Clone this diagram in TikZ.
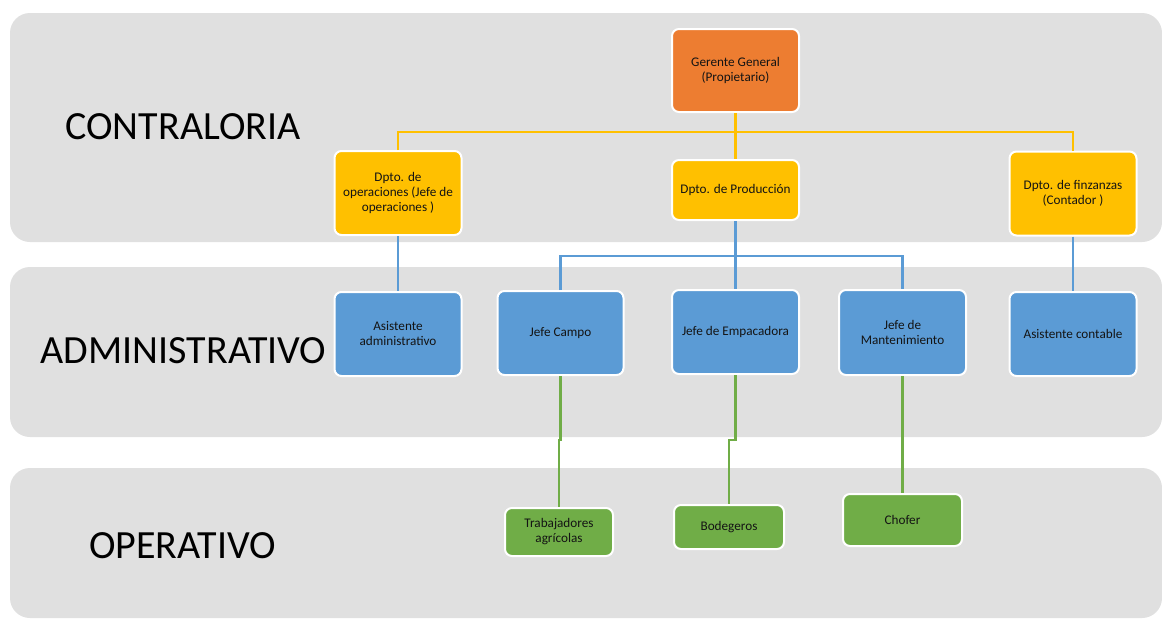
\documentclass[tikz,border=0pt]{standalone}
\usepackage{fontspec}
\setmainfont{Carlito}
\definecolor{bandgray}{RGB}{224,224,224}
\definecolor{orangebox}{RGB}{237,125,49}
\definecolor{yellowbox}{RGB}{255,192,0}
\definecolor{bluebox}{RGB}{91,155,213}
\definecolor{greenbox}{RGB}{112,173,71}
\definecolor{txt}{RGB}{20,20,20}
\begin{document}
\begin{tikzpicture}[x=1pt,y=-1pt,
  band/.style={fill=bandgray, draw=none, rounded corners=20pt},
  levellabel/.style={font=\fontsize{40}{44}\selectfont, inner sep=0, text=black},
  orgbox/.style={draw=white, line width=2pt, rounded corners=7pt, text=txt,
     font=\fontsize{13.2}{15}\selectfont, align=center, inner sep=0, anchor=center},
  ybox/.style={orgbox, fill=yellowbox},
  bbox/.style={orgbox, fill=bluebox},
  gbox/.style={orgbox, fill=greenbox},
  yline/.style={draw=yellowbox, line width=2.8pt},
  bline/.style={draw=bluebox, line width=2.8pt},
  gline/.style={draw=greenbox, line width=2.8pt}]
\useasboundingbox (0,0) rectangle (1162,619);
\clip (0,0) rectangle (1162,619);
\fill[white] (0,0) rectangle (1162,619);
% bands
\path[band] (10,13) rectangle (1162,242);
\path[band] (10,267) rectangle (1162,437);
\path[band] (10,468) rectangle (1162,618);
% level labels
\node[levellabel] (lc) at (183,127) {CONTRALORIA};
\node[levellabel] (la) at (183.5,351) {ADMINISTRATIVO};
\node[levellabel] (lo) at (182.5,546) {OPERATIVO};
% nodes
\node[orgbox, fill=orangebox, minimum width=127pt, minimum height=83pt] (gg) at (735.5,70.5) {Gerente General\\(Propietario)};
\node[ybox, minimum width=127pt, minimum height=84pt] (dop) at (398,193) {Dpto. de\\operaciones (Jefe de\\operaciones )};
\node[ybox, minimum width=127pt, minimum height=60pt] (dpr) at (735.5,190) {Dpto. de Producción};
\node[ybox, minimum width=127pt, minimum height=84pt] (dfi) at (1073,193.5) {Dpto. de finzanzas\\(Contador )};
\node[bbox, minimum width=127pt, minimum height=84pt] (aad) at (398,334) {Asistente\\administrativo};
\node[bbox, minimum width=126pt, minimum height=84pt] (jca) at (560.5,333) {Jefe Campo};
\node[bbox, minimum width=127pt, minimum height=84pt] (jem) at (735.5,332) {Jefe de Empacadora};
\node[bbox, minimum width=127pt, minimum height=85pt] (jma) at (902.5,332.5) {Jefe de\\Mantenimiento};
\node[bbox, minimum width=127pt, minimum height=84pt] (aco) at (1073,334) {Asistente contable};
\node[gbox, minimum width=108pt, minimum height=48pt] (tra) at (559,532) {Trabajadores\\agrícolas};
\node[gbox, minimum width=110pt, minimum height=44pt] (bod) at (729,527) {Bodegeros};
\node[gbox, minimum width=119pt, minimum height=52pt] (cho) at (902.5,520) {Chofer};
% yellow connectors
\coordinate (ytop) at (735.5,132);
\path[yline] (gg.south) -- (ytop);
\path[yline] (dop.north) -- (dop.north |- ytop) -- (dfi.north |- ytop) -- (dfi.north);
\path[yline] (ytop) -- (dpr.north);
% blue connectors
\coordinate (bmid) at (735.5,256);
\path[bline] (dop.south) -- (aad.north);
\path[bline] (dfi.south) -- (aco.north);
\path[bline] (dpr.south) -- (jem.north);
\path[bline] (jca.north) -- (jca.north |- bmid) -- (jma.north |- bmid) -- (jma.north);
% green connectors
\path[gline] (jca.south) -- (560.5,440) -- (559,440) -- (tra.north);
\path[gline] (jem.south) -- (735.5,440) -- (729,440) -- (bod.north);
\path[gline] (jma.south) -- (cho.north);
\end{tikzpicture}
\end{document}
